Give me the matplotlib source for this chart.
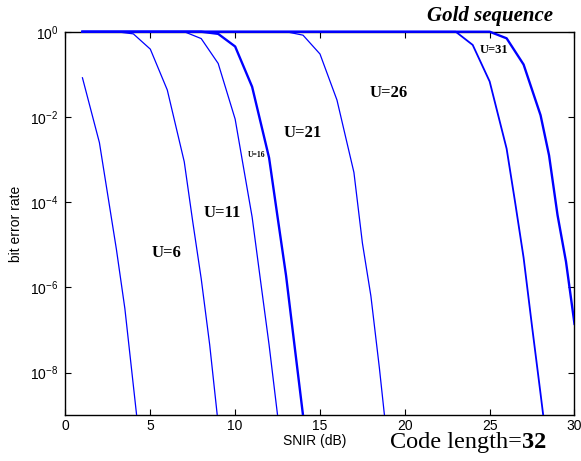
import matplotlib
matplotlib.use("Agg")
import matplotlib.pyplot as plt
from matplotlib.patches import Rectangle
from matplotlib.ticker import NullLocator

plt.rcParams["font.family"] = ["Liberation Sans", "DejaVu Sans"]
plt.rcParams["mathtext.fontset"] = "custom"
plt.rcParams["mathtext.rm"] = "Liberation Sans"
plt.rcParams["mathtext.it"] = "Liberation Sans:italic"
plt.rcParams["mathtext.bf"] = "Liberation Sans:bold"

# SNIR (dB) and bit error rate, one pair per curve
snir_a = [1, 2, 3, 3.5, 4, 4.5]
ber_a = [8.3e-2, 2.5e-3, 7.9e-6, 3.2e-7, 5.0e-9, 7.9e-11]

snir_b = [1, 2, 3, 4, 5, 6, 7, 7.5, 8, 8.5, 9]
ber_b = [1, 1, 1, 0.89, 0.39, 4.3e-2, 8.9e-4, 3.5e-5, 1.6e-6, 4.5e-8, 6.3e-10]

snir_c = [1, 2, 3, 4, 5, 6, 7, 8, 9, 10, 10.5, 11, 11.5, 12, 12.5, 13]
ber_c = [1, 1, 1, 1, 1, 1, 1, 0.69, 0.18, 8.9e-3, 6.3e-4, 4.5e-5, 1.4e-6,
         4.5e-8, 1.0e-9, 2.5e-11]

snir_d = [1, 2, 3, 4, 5, 6, 7, 8, 9, 10, 11, 12, 12.5, 13, 13.5, 14, 14.5]
ber_d = [1, 1, 1, 1, 1, 1, 1, 1, 0.89, 0.45, 5.1e-2, 1.1e-3, 4.5e-5, 1.9e-6,
         4.3e-8, 1.0e-9, 2.5e-11]

snir_e = [1, 2, 3, 4, 5, 6, 7, 8, 9, 10, 11, 12, 13, 14, 15, 16, 17, 17.5,
          18, 18.5, 19]
ber_e = [1, 1, 1, 1, 1, 1, 1, 1, 1, 1, 1, 1, 1, 0.83, 0.30, 2.5e-2, 5.0e-4,
         1.1e-5, 6.3e-7, 1.3e-8, 1.8e-10]

snir_f = [1, 5, 10, 15, 20, 23, 24, 25, 26, 26.5, 27, 27.5, 28, 28.5]
ber_f = [1, 1, 1, 1, 1, 1, 0.49, 6.8e-2, 1.8e-3, 1.0e-4, 5.0e-6, 1.2e-7,
         3.2e-9, 7.9e-11]

snir_g = [1, 5, 10, 15, 20, 25, 26, 27, 28, 28.5, 29, 29.5, 30]
ber_g = [1, 1, 1, 1, 1, 1, 0.70, 0.17, 1.1e-2, 1.26e-3, 5.0e-5, 4.0e-6,
         1.4e-7]

curves = [
    (snir_a, ber_a, 0.9),
    (snir_b, ber_b, 0.9),
    (snir_c, ber_c, 0.9),
    (snir_d, ber_d, 1.7),
    (snir_e, ber_e, 0.9),
    (snir_f, ber_f, 1.3),
    (snir_g, ber_g, 1.7),
]

y_ticks = [1e0, 1e-2, 1e-4, 1e-6, 1e-8]
y_tick_labels = [r"$10^{0}$", r"$10^{-2}$", r"$10^{-4}$", r"$10^{-6}$", r"$10^{-8}$"]
x_ticks = [0, 5, 10, 15, 20, 25, 30]

fig = plt.figure(figsize=(5.81, 4.61), dpi=100)
ax = fig.add_axes([0.1127, 0.0991, 0.8761, 0.8321])

# let the lines sit on top of the upper spine like the original
clip = Rectangle((0, 0), 1, 1.01, transform=ax.transAxes, facecolor="none",
                 edgecolor="none")
ax.add_patch(clip)
for x, y, lw in curves:
    line, = ax.semilogy(x, y, color="#0000ff", lw=lw, zorder=3)
    line.set_clip_path(clip)

ax.set_xlim(0, 30)
ax.set_ylim(1e-9, 1e0)
ax.set_xticks(x_ticks)
ax.set_yticks(y_ticks)
ax.set_yticklabels(y_tick_labels)
ax.yaxis.set_minor_locator(NullLocator())
ax.tick_params(direction="in", top=True, right=True, length=4, width=0.8,
               labelsize=10)
ax.tick_params(axis="x", pad=2.5)
ax.tick_params(axis="y", pad=5)
for sp in ax.spines.values():
    sp.set_linewidth(1.0)

ax.set_xlabel("SNIR (dB)", fontsize=10)
ax.xaxis.set_label_coords(0.49, -0.05)
ax.set_ylabel("bit error rate", fontsize=10)
ax.yaxis.set_label_coords(-0.084, 0.5)

serif = "Liberation Serif"
ax.text(5.98, 10 ** -5.19, "U=6", fontfamily=serif, fontweight="bold",
        fontsize=12, ha="center", va="center")
ax.text(9.22, 10 ** -4.26, "U=11", fontfamily=serif, fontweight="bold",
        fontsize=12, ha="center", va="center")
ax.text(11.28, 10 ** -2.89, "U=16", fontfamily=serif, fontweight="bold",
        fontsize=5.5, ha="center", va="center")
ax.text(13.99, 10 ** -2.38, "U=21", fontfamily=serif, fontweight="bold",
        fontsize=12, ha="center", va="center")
ax.text(19.06, 10 ** -1.44, "U=26", fontfamily=serif, fontweight="bold",
        fontsize=12, ha="center", va="center")
ax.text(25.25, 10 ** -0.43, "U=31", fontfamily=serif, fontweight="bold",
        fontsize=9, ha="center", va="center")

fig.text(0.843, 0.954, "Gold sequence", fontfamily=serif, fontweight="bold",
         fontstyle="italic", fontsize=15, ha="center", va="baseline")
fig.text(0.898, 0.028, "Code length=", fontfamily=serif, fontsize=17.5,
         ha="right", va="baseline")
fig.text(0.898, 0.028, "32", fontfamily=serif, fontweight="bold",
         fontsize=17.5, ha="left", va="baseline")

fig.savefig("out.png", dpi=100)
